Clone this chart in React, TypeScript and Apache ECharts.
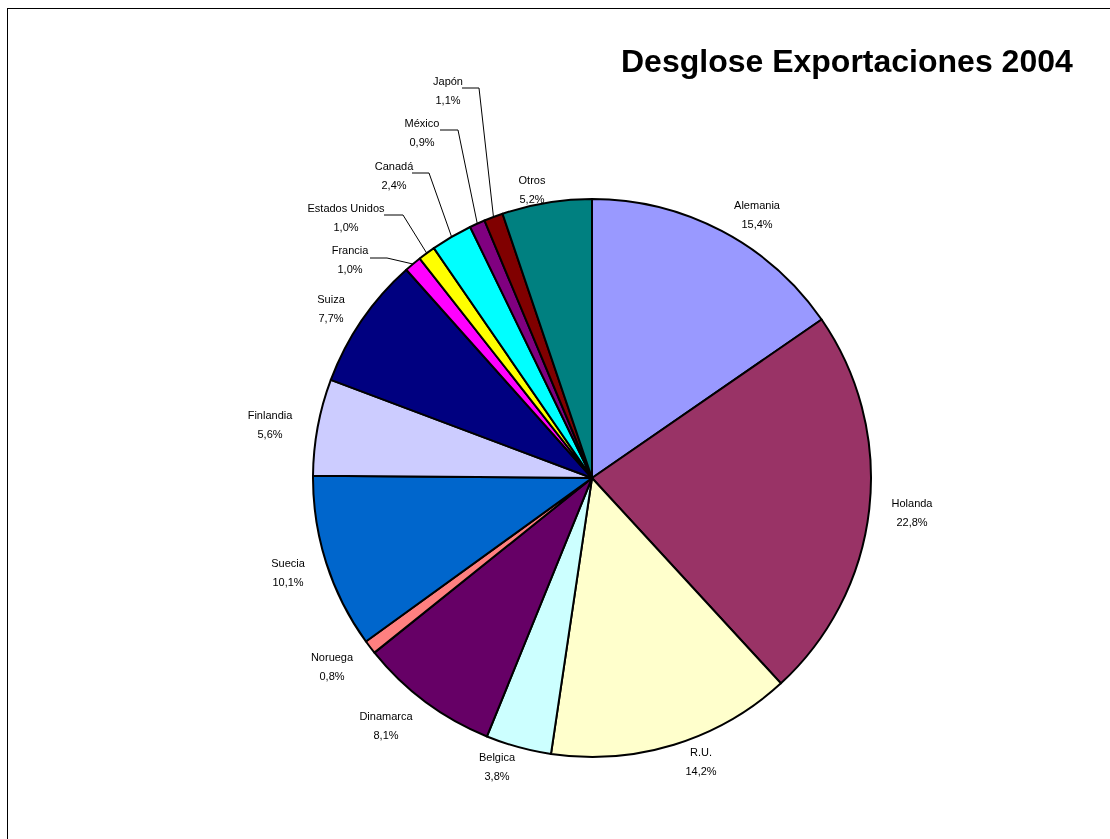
import React, { useEffect, useRef } from 'react';
import * as echarts from 'echarts';

const countries = ['Alemania', 'Holanda', 'R.U.', 'Belgica', 'Dinamarca', 'Noruega', 'Suecia', 'Finlandia', 'Suiza', 'Francia', 'Estados Unidos', 'Canadá', 'México', 'Japón', 'Otros'];
const shares = [15.4, 22.8, 14.2, 3.8, 8.1, 0.8, 10.1, 5.6, 7.7, 1.0, 1.0, 2.4, 0.9, 1.1, 5.2];
const sliceColors = ['#9999FF', '#993366', '#FFFFCC', '#CCFFFF', '#660066', '#FF8080', '#0066CC', '#CCCCFF', '#000080', '#FF00FF', '#FFFF00', '#00FFFF', '#800080', '#800000', '#008080'];
const chartTitle = 'Desglose Exportaciones 2004';

// label centres (layout only)
const labelPos: [number, number][] = [
  [757, 214], [912, 512], [701, 761], [497, 766], [386, 725], [332, 666], [288, 572],
  [270, 424], [331, 308], [350, 259], [346, 217], [394, 175], [422, 132], [448, 90], [532, 189],
];
// leader line corner + end (layout only), for small slices
const leaderPts: Record<number, [number, number][]> = {
  9: [[387, 258], [370, 258]],
  10: [[403, 215], [384, 215]],
  11: [[429, 173], [412, 173]],
  12: [[458, 130], [440, 130]],
  13: [[479, 88], [462, 88]],
};

const FONT = '"Liberation Sans", Arial, sans-serif';

export default function App() {
  const ref = useRef<HTMLDivElement>(null);
  useEffect(() => {
    document.documentElement.style.overflow = 'hidden';
    document.body.style.overflow = 'hidden';
    const chart = echarts.init(ref.current!, null, { renderer: 'svg' });
    const data = countries.map((name, i) => ({
      name,
      value: shares[i],
      itemStyle: { color: sliceColors[i] },
      labelLine: { show: leaderPts[i] !== undefined },
    }));
    chart.setOption({
      animation: false,
      title: {
        text: chartTitle,
        left: 621,
        top: 45,
        padding: 0,
        textStyle: { fontSize: 32, fontWeight: 'bold', fontFamily: FONT, color: '#000' },
      },
      series: [
        {
          type: 'pie',
          center: [592, 478],
          radius: 279,
          startAngle: 90,
          clockwise: true,
          avoidLabelOverlap: false,
          itemStyle: { borderColor: '#000', borderWidth: 2 },
          emphasis: { disabled: true },
          label: {
            show: true,
            position: 'outside',
            fontFamily: FONT,
            fontSize: 11,
            lineHeight: 19,
            color: '#000',
            align: 'center',
            formatter: (p: any) => `${p.name}\n${Number(p.value).toFixed(1).replace('.', ',')}%`,
          },
          labelLine: {
            show: false,
            length: 10,
            length2: 10,
            smooth: false,
            lineStyle: { color: '#000', width: 1 },
          },
          labelLayout: (params: any) => {
            const i = params.dataIndex;
            const p = labelPos[i];
            const res: any = { x: p[0], y: p[1], align: 'center', verticalAlign: 'middle' };
            const lp = leaderPts[i];
            if (lp && params.labelLinePoints && params.labelLinePoints.length) {
              res.labelLinePoints = [params.labelLinePoints[0], lp[0], lp[1]];
            }
            return res;
          },
          data,
        },
      ],
    });
    return () => chart.dispose();
  }, []);
  return (
    <>
      <div
        style={{
          position: 'fixed',
          left: 7,
          top: 8,
          width: 1300,
          height: 1100,
          border: '1px solid #000',
          boxSizing: 'border-box',
        }}
      />
      <div ref={ref} style={{ position: 'fixed', left: 0, top: 0, width: 1110, height: 839 }} />
    </>
  );
}
